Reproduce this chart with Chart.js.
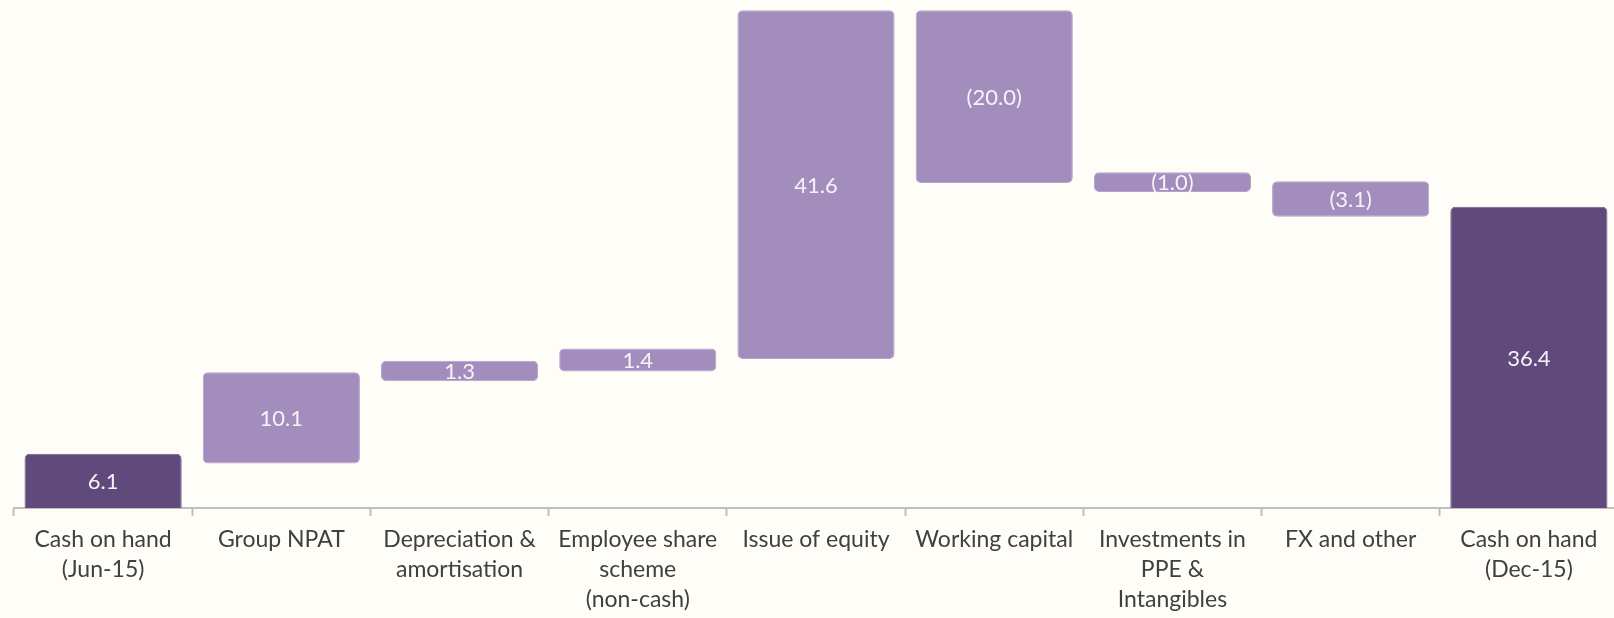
<!DOCTYPE html>
<html>
<head>
<meta charset="utf-8">
<script src="https://cdn.jsdelivr.net/npm/chart.js@4.4.1/dist/chart.umd.min.js"></script>
<style>
  html, body { margin: 0; padding: 0; background: #fffdf7; overflow: hidden; }
  /* slide's plot runs a few px past the right edge of the picture */
  #wrap { width: 1618px; height: 618px; position: relative; }
</style>
</head>
<body>
<div id="wrap"><canvas id="cashChart"></canvas></div>
<script>
// ---------- Data ----------
const categories = [
  ['Cash on hand', '(Jun-15)'],
  'Group NPAT',
  ['Depreciation &', 'amortisation'],
  ['Employee share', 'scheme', '(non-cash)'],
  'Issue of equity',
  'Working capital',
  ['Investments in', 'PPE &', 'Intangibles'],
  'FX and other',
  ['Cash on hand', '(Dec-15)']
];
// movement shown inside each bar
const amounts = [6.1, 10.1, 1.3, 1.4, 41.6, -20.0, -1.0, -3.1, 36.4];
// bar extents as drawn in the slide (not strictly to scale)
const barLow  = [0, 5.4, 15.4, 16.6, 18.1, 39.5, 38.4, 35.4, 0];
const barHigh = [6.6, 16.5, 17.9, 19.4, 60.5, 60.5, 40.8, 39.7, 36.6];
const isTotal = [true, false, false, false, false, false, false, false, true];

const darkPurple = '#5f4a7b';
const lightPurple = '#a28dbc';

function fmt(v) {
  return v < 0 ? '(' + Math.abs(v).toFixed(1) + ')' : v.toFixed(1);
}

// ---------- Value labels inside bars ----------
const barLabels = {
  id: 'barLabels',
  afterDatasetsDraw(chart) {
    const ctx = chart.ctx;
    const meta = chart.getDatasetMeta(0);
    ctx.save();
    ctx.font = '22px Lato';
    ctx.fillStyle = '#f6f3f8';
    ctx.textAlign = 'center';
    ctx.textBaseline = 'middle';
    meta.data.forEach((bar, i) => {
      const { x, y, base } = bar.getProps(['x', 'y', 'base'], true);
      ctx.fillText(fmt(amounts[i]), x, (y + base) / 2 + 1);
    });
    ctx.restore();
  }
};

new Chart(document.getElementById('cashChart'), {
  type: 'bar',
  data: {
    labels: categories,
    datasets: [{
      data: barLow.map((lo, i) => [lo, barHigh[i]]),
      backgroundColor: isTotal.map(t => t ? darkPurple : lightPurple),
      borderColor: isTotal.map(t => t ? '#6e5b88' : '#b3a2c9'),
      borderWidth: 1,
      borderRadius: 5,
      borderSkipped: (c) => barLow[c.dataIndex] === 0 ? 'start' : false,
      categoryPercentage: 1,
      barPercentage: 0.882
    }]
  },
  options: {
    responsive: true,
    maintainAspectRatio: false,
    animation: false,
    layout: { padding: { left: 14, right: 0, top: 2, bottom: 0 } },
    plugins: {
      legend: { display: false },
      tooltip: { enabled: false }
    },
    scales: {
      y: {
        display: false,
        min: 0,
        max: 61.5
      },
      x: {
        afterFit: (axis) => { axis.height = 110; },
        border: { display: true, color: '#bfbfbf', width: 2 },
        grid: {
          offset: true,
          drawOnChartArea: false,
          drawTicks: true,
          tickLength: 8,
          tickWidth: 2,
          color: '#bfbfbf'
        },
        ticks: {
          color: '#404040',
          padding: 9,
          maxRotation: 0,
          autoSkip: false,
          font: { family: 'Lato', size: 23, lineHeight: 1.3 }
        }
      }
    }
  },
  plugins: [barLabels]
});
</script>
</body>
</html>
